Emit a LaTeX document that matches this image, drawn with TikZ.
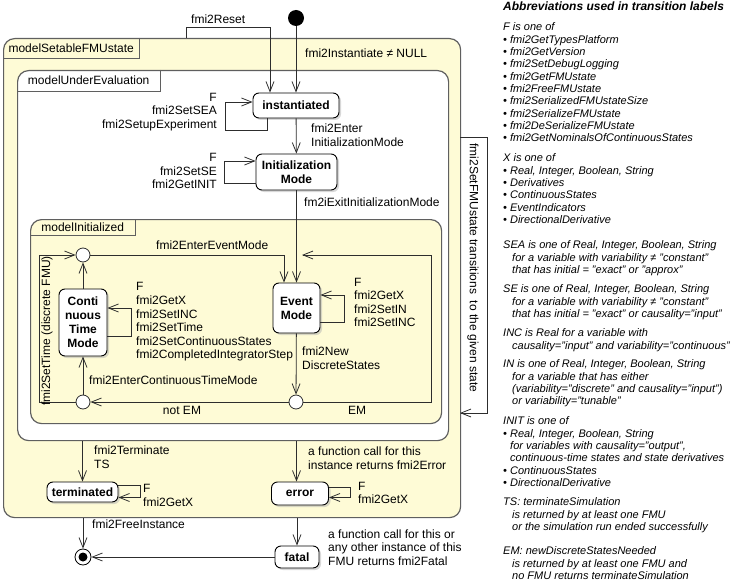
\documentclass[tikz,border=0pt]{standalone}
\usepackage{fontspec}
\setmainfont{Liberation Sans}
\definecolor{stateyellow}{RGB}{254, 251, 214}
\definecolor{framegray}{RGB}{95, 95, 95}
\definecolor{linedark}{RGB}{45, 45, 45}
\usetikzlibrary{arrows.meta, positioning, calc, shadows}

\begin{document}
\begin{tikzpicture}[x=1pt, y=-1pt, font=\fontsize{12}{13.6}\selectfont,
  trans/.style={draw=linedark, line width=0.8pt, -{Straight Barb[length=10pt, width=8pt, line width=0.8pt]}},
  statebox/.style={draw=black, line width=0.9pt, rounded corners=6pt, fill=white, align=center, inner sep=0pt,
    font=\fontsize{12}{14}\selectfont\bfseries, drop shadow={shadow xshift=2pt, shadow yshift=-2pt, fill=black!30}},
  region/.style={draw=framegray, line width=1.2pt, rounded corners=11pt, anchor=north west, inner sep=0pt},
  regiontab/.style={anchor=north west, inner sep=0pt},
  junction/.style={draw=linedark, line width=0.8pt, circle, fill=white, minimum size=14pt, inner sep=0pt},
  lbl/.style={inner sep=0pt, align=left},
  abbr/.style={anchor=north west, inner sep=0pt, align=left, font=\fontsize{11}{12.35}\selectfont\itshape}
]
  \useasboundingbox (0,0) rectangle (736,583);

  % Nested regions with their tabs
  \node[region, fill=stateyellow, minimum width=457pt, minimum height=479pt] (setable) at (3,38) {};
  \node[regiontab, minimum width=136pt, minimum height=20pt] (setableTab) at (3,38) {modelSetableFMUstate};
  \draw[draw=framegray, line width=1.2pt] (setableTab.north east) |- (setableTab.south west);

  \node[region, fill=white, minimum width=431pt, minimum height=370pt] (mue) at (17,70) {};
  \node[regiontab, minimum width=143pt, minimum height=21pt] (mueTab) at (17,70) {modelUnderEvaluation};
  \draw[draw=framegray, line width=1.2pt] (mueTab.north east) |- (mueTab.south west);

  \node[region, fill=stateyellow, minimum width=411pt, minimum height=204pt] (mini) at (30,219) {};
  \node[regiontab, minimum width=105pt, minimum height=16pt] (miniTab) at (30,219) {modelInitialized};
  \draw[draw=framegray, line width=1.2pt] (miniTab.north east) |- (miniTab.south west);

  % States
  \node[statebox, minimum width=86pt, minimum height=25pt] (inst) at (296,105.5) {instantiated};
  \node[statebox, minimum width=81pt, minimum height=36pt] (initmode) at (296.5,172) {Initialization\\Mode};
  \node[statebox, minimum width=47pt, minimum height=50pt] (event) at (296.5,308) {Event\\Mode};
  \node[statebox, minimum width=48pt, minimum height=67pt] (ctm) at (83,322.5) {Conti\\nuous\\Time\\Mode};
  \node[statebox, minimum width=71pt, minimum height=20pt] (term) at (82.5,492) {terminated};
  \node[statebox, minimum width=57pt, minimum height=23pt] (err) at (300,493.5) {error};
  \node[statebox, minimum width=44pt, minimum height=22pt] (fatal) at (297,557) {fatal};

  % Pseudo states
  \node[circle, fill=black, minimum size=16pt, inner sep=0pt] (start) at (296,18) {};
  \node[junction] (jTop) at (83,255) {};
  \node[junction] (jLow) at (83,402) {};
  \node[junction] (jEM) at (296,402) {};
  \node[junction, draw=black, minimum size=16pt] (finish) at (83,557) {};
  \fill (finish) circle (4.5pt);

  % Entering and initialization
  \draw[trans] (start) -- (inst);
  \node[lbl, anchor=west] (lInst) at (305,53) {fmi2Instantiate ≠ NULL};
  \draw[trans] ([xshift=183pt]setable.north west) -- ++(0,-11) -| ([xshift=-26pt]inst.north);
  \node[lbl, anchor=west] (lReset) at (191,19.5) {fmi2Reset};
  \draw[trans] ([xshift=-29pt]inst.south) -- ++(0,12) -- ++(-42,0) |- ([yshift=3.5pt]inst.west);
  \node[lbl, anchor=east, align=right] (lInstLoop) at (217,112) {F\\fmi2SetSEA\\fmi2SetupExperiment};
  \draw[trans] (inst) -- (initmode);
  \node[lbl, anchor=west] (lEnterInit) at (311,135.5) {fmi2Enter\\InitializationMode};
  \draw[trans] ([yshift=-11pt]initmode.west) -- ++(-31,0) |- ([yshift=11pt]initmode.west);
  \node[lbl, anchor=east, align=right] (lInitLoop) at (217,171) {F\\fmi2SetSE\\fmi2GetINIT};
  \draw[trans] (initmode) -- (event.north -| initmode);
  \node[lbl, anchor=west] (lExitInit) at (304,202.5) {fm2iExitInitializationMode};

  % Event mode and continuous time mode
  \draw[trans] (jTop.east) -| ([xshift=-12.5pt]event.north);
  \node[lbl, anchor=west] (lEnterEvent) at (156,245) {fmi2EnterEventMode};
  \draw[trans] ([yshift=-14pt]event.east) -- ++(24,0) |- ([yshift=13pt]event.east);
  \node[lbl, anchor=west] (lEventLoop) at (354,302.5) {F\\fmi2GetX\\fmi2SetIN\\fmi2SetINC};
  \draw[trans] (event) -- (jEM);
  \node[lbl, anchor=west] (lNewDisc) at (302,358.5) {fmi2New\\DiscreteStates};
  \coordinate (emIn) at (302,255);
  \draw[trans] (jEM.east) -- ++(128,0) |- (emIn);
  \node[lbl] (lEM) at (357,410.5) {EM};
  \draw[trans] (jEM) -- (jLow);
  \node[lbl] (lNotEM) at (182,410.5) {not EM};
  \draw[trans] (jLow) -- (ctm);
  \node[lbl, anchor=west] (lEnterCont) at (89,380) {fmi2EnterContinuousTimeMode};
  \draw[trans] (ctm) -- (jTop);
  \draw[trans] (jLow.west) -- ++(-36,0) |- (jTop.west);
  \node[lbl, rotate=90] (lSetTime) at (47,331) {fmi2SetTime (discrete FMU)};
  \draw[trans] ([yshift=-13.5pt]ctm.east) -- ++(24,0) |- ([yshift=14.5pt]ctm.east);
  \node[lbl, anchor=west] (lCtmLoop) at (136,322) {F\\fmi2GetX\\fmi2SetINC\\fmi2SetTime\\fmi2SetContinuousStates\\fmi2CompletedIntegratorStep};

  % Leaving the regions
  \draw[trans] (mue.south -| term) -- (term);
  \node[lbl, anchor=west] (lTerminate) at (94,457.5) {fmi2Terminate\\TS};
  \draw[trans] ([yshift=6.5pt]term.east) -- ++(22,0) |- ([yshift=-5.5pt]term.east);
  \node[lbl, anchor=west] (lTermLoop) at (143,495.5) {F\\fmi2GetX};
  \draw[trans] (mue.south -| event) -- (err.north -| event);
  \node[lbl, anchor=west] (lError) at (308,458) {a function call for this\\instance returns fmi2Error};
  \draw[trans] ([yshift=6pt]err.east) -- ++(21,0) |- ([yshift=-4pt]err.east);
  \node[lbl, anchor=west] (lErrLoop) at (358,493) {F\\fmi2GetX};
  \draw[trans] (setable.south -| finish) -- (finish);
  \node[lbl, anchor=west] (lFree) at (92,524) {fmi2FreeInstance};
  \draw[trans] (setable.south -| fatal) -- (fatal);
  \node[lbl, anchor=west] (lFatal) at (328,547.5) {a function call for this or\\any other instance of this\\FMU returns fmi2Fatal};
  \draw[trans] (fatal) -- (finish);

  % fmi2SetFMUstate loop
  \coordinate (sfsOut) at (460,137);
  \coordinate (sfsIn) at (460,413);
  \draw[trans] (sfsOut) -- ++(27,0) |- (sfsIn);
  \node[lbl, rotate=-90] (lSetState) at (473,268) {fmi2SetFMUstate transitions\ \ to the given state};

  % Abbreviations
  \node[abbr, font=\fontsize{12}{13}\selectfont\bfseries\itshape] (abTitle) at (503,2) {Abbreviations used in transition labels};
  \node[abbr] (abF) at (503,22.5) {F is one of\\
    \textbullet\ fmi2GetTypesPlatform\\
    \textbullet\ fmi2GetVersion\\
    \textbullet\ fmi2SetDebugLogging\\
    \textbullet\ fmi2GetFMUstate\\
    \textbullet\ fmi2FreeFMUstate\\
    \textbullet\ fmi2SerializedFMUstateSize\\
    \textbullet\ fmi2SerializeFMUstate\\
    \textbullet\ fmi2DeSerializeFMUstate\\
    \textbullet\ fmi2GetNominalsOfContinuousStates};
  \node[abbr] (abX) at (503,153.5) {X is one of\\
    \textbullet\ Real, Integer, Boolean, String\\
    \textbullet\ Derivatives\\
    \textbullet\ ContinuousStates\\
    \textbullet\ EventIndicators\\
    \textbullet\ DirectionalDerivative};
  \node[abbr] (abSEA) at (503,240.5) {SEA is one of Real, Integer, Boolean, String\\
    \hspace*{9pt}for a variable with variability ≠ "constant"\\
    \hspace*{9pt}that has initial = "exact" or "approx"};
  \node[abbr] (abSE) at (503,284.5) {SE is one of Real, Integer, Boolean, String\\
    \hspace*{9pt}for a variable with variability ≠ "constant"\\
    \hspace*{9pt}that has initial = "exact" or causality="input"};
  \node[abbr] (abINC) at (503,328.5) {INC is Real for a variable with\\
    \hspace*{9pt}causality="input" and variability="continuous"};
  \node[abbr] (abIN) at (503,359.5) {IN is one of Real, Integer, Boolean, String\\
    \hspace*{9pt}for a variable that has either\\
    \hspace*{9pt}(variability="discrete" and causality="input")\\
    \hspace*{9pt}or variability="tunable"};
  \node[abbr] (abINIT) at (503,416.5) {INIT is one of\\
    \textbullet\ Real, Integer, Boolean, String\\
    \hspace*{7pt}for variables with causality="output",\\
    \hspace*{7pt}continuous-time states and state derivatives\\
    \textbullet\ ContinuousStates\\
    \textbullet\ DirectionalDerivative};
  \node[abbr] (abTS) at (503,497.5) {TS: terminateSimulation\\
    \hspace*{9pt}is returned by at least one FMU\\
    \hspace*{9pt}or the simulation run ended successfully};
  \node[abbr] (abEM) at (503,546.5) {EM: newDiscreteStatesNeeded\\
    \hspace*{9pt}is returned by at least one FMU and\\
    \hspace*{9pt}no FMU returns terminateSimulation};
\end{tikzpicture}
\end{document}
